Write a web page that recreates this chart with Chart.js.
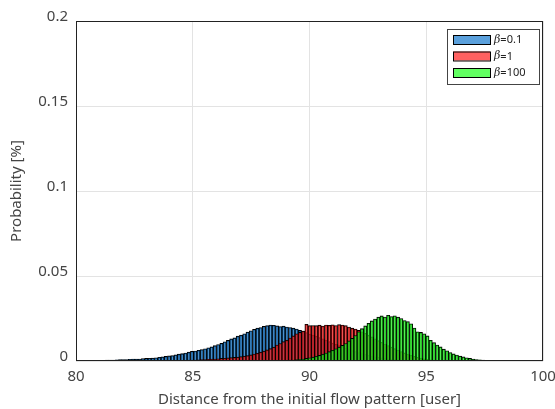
<!DOCTYPE html>
<html>
<head>
<meta charset="utf-8">
<script src="https://cdn.jsdelivr.net/npm/chart.js@4.4.0/dist/chart.umd.min.js"></script>
<style>
  html, body { margin: 0; padding: 0; background: #fff; }
  #wrap { width: 555px; height: 409px; }
</style>
</head>
<body>
<div id="wrap"><canvas id="hist"></canvas></div>
<script>
// histogram bins (shared by all three runs)
const binStart = 80.0;
const binWidth = 0.14;
const seriesLabels = ['β=0.1', 'β=1', 'β=100'];
const xTicks = [80, 85, 90, 95, 100];
const yTicks = [0, 0.05, 0.1, 0.15, 0.2];
// index of the first non-empty bin of each run
const firstBin = [3, 28, 60];

const probBeta01 = [
  0.0002, 0.0002, 0.0003, 0.0003, 0.0004, 0.0004, 0.0005, 0.0006, 0.0006, 0.0007,
  0.0008, 0.0009, 0.0009, 0.0010, 0.0011, 0.0012, 0.0012, 0.0014, 0.0015, 0.0016,
  0.0017, 0.0019, 0.0022, 0.0024, 0.0027, 0.0030, 0.0032, 0.0036, 0.0040, 0.0043,
  0.0047, 0.0052, 0.0057, 0.0059, 0.0063, 0.0067, 0.0072, 0.0078, 0.0083, 0.0090,
  0.0097, 0.0104, 0.0113, 0.0121, 0.0130, 0.0136, 0.0146, 0.0152, 0.0160, 0.0170,
  0.0178, 0.0186, 0.0193, 0.0197, 0.0204, 0.0208, 0.0212, 0.0210, 0.0207, 0.0203,
  0.0205, 0.0200, 0.0197, 0.0193, 0.0188, 0.0180, 0.0176, 0.0167, 0.0158, 0.0152,
  0.0146, 0.0138, 0.0131, 0.0122, 0.0114, 0.0106, 0.0098, 0.0090, 0.0083, 0.0076,
  0.0069, 0.0062, 0.0056, 0.0050, 0.0044, 0.0039, 0.0034, 0.0029, 0.0025, 0.0021,
  0.0018, 0.0015, 0.0012, 0.0010, 0.0008, 0.0006, 0.0005, 0.0004, 0.0003, 0.0002,
  0.0001
];
const probBeta1 = [
  0.0002, 0.0002, 0.0003, 0.0003, 0.0004, 0.0004, 0.0005, 0.0006, 0.0006, 0.0007,
  0.0008, 0.0009, 0.0010, 0.0011, 0.0012, 0.0013, 0.0015, 0.0016, 0.0018, 0.0020,
  0.0021, 0.0023, 0.0026, 0.0029, 0.0032, 0.0036, 0.0041, 0.0046, 0.0052, 0.0058,
  0.0065, 0.0073, 0.0082, 0.0094, 0.0103, 0.0114, 0.0122, 0.0135, 0.0148, 0.0160,
  0.0168, 0.0176, 0.0216, 0.0208, 0.0209, 0.0208, 0.0211, 0.0206, 0.0212, 0.0210,
  0.0213, 0.0209, 0.0214, 0.0212, 0.0208, 0.0200, 0.0193, 0.0188, 0.0180, 0.0172,
  0.0163, 0.0152, 0.0142, 0.0131, 0.0120, 0.0110, 0.0100, 0.0091, 0.0082, 0.0073,
  0.0064, 0.0056, 0.0048, 0.0041, 0.0034, 0.0028, 0.0022, 0.0017, 0.0013, 0.0010,
  0.0007, 0.0005, 0.0004, 0.0003, 0.0002, 0.0001
];
const probBeta100 = [
  0.0001, 0.0002, 0.0002, 0.0003, 0.0004, 0.0005, 0.0006, 0.0008, 0.0010, 0.0012,
  0.0015, 0.0019, 0.0023, 0.0028, 0.0033, 0.0040, 0.0047, 0.0055, 0.0063, 0.0072,
  0.0082, 0.0092, 0.0103, 0.0118, 0.0133, 0.0150, 0.0172, 0.0190, 0.0207, 0.0222,
  0.0236, 0.0247, 0.0258, 0.0265, 0.0259, 0.0269, 0.0262, 0.0266, 0.0258, 0.0250,
  0.0238, 0.0232, 0.0219, 0.0194, 0.0172, 0.0168, 0.0160, 0.0148, 0.0122, 0.0108,
  0.0094, 0.0083, 0.0070, 0.0060, 0.0050, 0.0042, 0.0035, 0.0029, 0.0024, 0.0019,
  0.0015, 0.0012, 0.0009, 0.0007, 0.0005, 0.0004, 0.0003, 0.0002, 0.0002, 0.0001,
  0.0001
];

const fills = ['rgba(20,120,205,0.7)', 'rgba(255,30,30,0.7)', 'rgba(30,255,30,0.7)'];

function toBars(values, first) {
  return values.map((p, k) => ({ x: binStart + binWidth * (first + k + 0.5), y: p }));
}

const allSeries = [probBeta01, probBeta1, probBeta100];

Chart.defaults.font.family = '"Noto Sans", "DejaVu Sans", sans-serif';
Chart.defaults.color = '#444';

// black frame round the plot
const framePlugin = {
  id: 'frame',
  afterDatasetsDraw(chart) {
    const { ctx, chartArea: a } = chart;
    ctx.save();
    ctx.strokeStyle = '#222';
    ctx.lineWidth = 1;
    ctx.strokeRect(Math.round(a.left) + 0.5, Math.round(a.top) + 0.5,
      Math.round(a.right - a.left) - 1, Math.round(a.bottom - a.top) - 1);
    ctx.restore();
  }
};

// boxed legend in the upper right corner
const boxLegend = {
  id: 'boxLegend',
  afterDraw(chart) {
    const { ctx, chartArea: a } = chart;
    const w = 92, h = 55;
    const x0 = Math.round(a.right) - 4 - w, y0 = Math.round(a.top) + 8;
    ctx.save();
    ctx.fillStyle = '#fff';
    ctx.fillRect(x0, y0, w, h);
    ctx.strokeStyle = '#444';
    ctx.lineWidth = 1;
    ctx.strokeRect(x0 + 0.5, y0 + 0.5, w, h);
    chart.data.datasets.forEach((ds, i) => {
      const sy = y0 + 6 + i * 16.5;
      ctx.fillStyle = '#fff';
      ctx.fillRect(x0 + 6, sy, 37, 9);
      ctx.fillStyle = ds.backgroundColor;
      ctx.fillRect(x0 + 6, sy, 37, 9);
      ctx.strokeStyle = '#000';
      ctx.strokeRect(x0 + 6.5, sy + 0.5, 37, 9);
      const [sym, rest] = [ds.label.slice(0, 1), ds.label.slice(1)];
      ctx.fillStyle = '#222';
      ctx.textBaseline = 'middle';
      ctx.font = 'italic 11px "DejaVu Serif", serif';
      ctx.fillText(sym, x0 + 47, sy + 5);
      const sw = ctx.measureText(sym).width;
      ctx.font = '11px "Noto Sans", sans-serif';
      ctx.fillText(rest, x0 + 47 + sw, sy + 5);
    });
    ctx.restore();
  }
};

new Chart(document.getElementById('hist'), {
  type: 'bar',
  data: {
    datasets: allSeries.map((vals, i) => ({
      label: seriesLabels[i],
      data: toBars(vals, firstBin[i]),
      backgroundColor: fills[i],
      borderColor: '#000',
      borderWidth: 0.9,
      borderSkipped: 'start',
      barPercentage: 1,
      categoryPercentage: 1,
      grouped: false,
      order: 3 - i
    }))
  },
  options: {
    responsive: true,
    maintainAspectRatio: false,
    animation: false,
    layout: { padding: { left: 0, right: 12, top: 21, bottom: 0 } },
    plugins: {
      legend: { display: false },
      tooltip: { enabled: false }
    },
    scales: {
      x: {
        type: 'linear',
        min: 80,
        max: 100,
        offset: false,
        afterBuildTicks: s => { s.ticks = xTicks.map(v => ({ value: v })); },
        afterFit: s => { s.height = 48; s.paddingLeft = 0; s.paddingRight = 0; },
        grid: { color: '#e3e3e3', drawTicks: false, offset: false },
        border: { display: false },
        ticks: { font: { size: 15 }, padding: 7, maxRotation: 0 },
        title: {
          display: true,
          text: 'Distance from the initial flow pattern [user]',
          font: { size: 15 },
          padding: { top: 2, bottom: 0 }
        }
      },
      y: {
        min: 0,
        max: 0.2,
        afterBuildTicks: s => { s.ticks = yTicks.map(v => ({ value: v })); },
        afterFit: s => { s.width = 76; s.paddingTop = 0; s.paddingBottom = 0; },
        grid: { color: '#e3e3e3', drawTicks: false },
        border: { display: false },
        ticks: {
          font: { size: 15 },
          padding: 8,
          labelOffset: -4,
          callback: v => String(v)
        },
        title: {
          display: true,
          text: 'Probability [%]',
          font: { size: 15 },
          padding: { top: 8, bottom: 0 }
        }
      }
    }
  },
  plugins: [framePlugin, boxLegend]
});
</script>
</body>
</html>
